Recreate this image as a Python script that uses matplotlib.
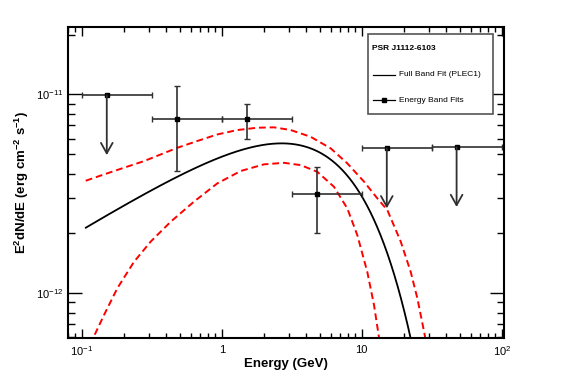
import numpy as np
import matplotlib.pyplot as plt
from matplotlib.patches import Rectangle
from matplotlib.lines import Line2D
from matplotlib.ticker import LogLocator, NullFormatter, FixedLocator, FixedFormatter

plt.rcParams['font.family'] = ['Liberation Sans', 'DejaVu Sans']
plt.rcParams['mathtext.default'] = 'regular'

# Energy band fits (GeV, erg cm^-2 s^-1)
band_lo = [0.1, 0.316, 1.0, 3.16, 10.0, 31.6]
band_hi = [0.316, 1.0, 3.16, 10.0, 31.6, 100.0]
band_e = [0.151, 0.476, 1.508, 4.77, 15.1, 47.6]
band_flux = [9.9e-12, 7.55e-12, 7.48e-12, 3.17e-12, 5.35e-12, 5.43e-12]
band_flux_up = [np.nan, 1.10e-11, 9.0e-12, 4.33e-12, np.nan, np.nan]
band_flux_dn = [np.nan, 4.12e-12, 5.96e-12, 2.0e-12, np.nan, np.nan]
upper_limit = [True, False, False, False, True, True]

# Full band fit (PLEC1): K * E^(2-gamma) * exp(-E/Ec)
plec_k = 5.71e-12
plec_gamma = 1.568
plec_cutoff = 6.2
plec_emin = 0.107

# 1 sigma envelope of the fit
env_hi_e = [0.1068, 0.1443, 0.2005, 0.2786, 0.4818, 0.669, 0.930, 1.292, 1.796,
            2.364, 3.11, 4.32, 6.01, 7.89, 10.39, 12.93, 15.24, 18.99, 22.39,
            24.96, 28.18, 29.0]
env_hi_f = [3.68e-12, 3.96e-12, 4.28e-12, 4.62e-12, 5.39e-12, 5.83e-12, 6.29e-12,
            6.62e-12, 6.80e-12, 6.83e-12, 6.62e-12, 6.12e-12, 5.35e-12, 4.50e-12,
            3.64e-12, 3.00e-12, 2.62e-12, 1.82e-12, 1.28e-12, 9.44e-13, 6.17e-13,
            5.5e-13]
env_lo_e = [0.1185, 0.1210, 0.1443, 0.1796, 0.2363, 0.311, 0.4322, 0.634, 0.930,
            1.367, 2.005, 2.786, 3.667, 4.82, 6.34, 7.89, 9.30, 10.96, 12.24,
            13.29, 13.51]
env_lo_f = [5.5e-13, 5.98e-13, 7.78e-13, 1.06e-12, 1.44e-12, 1.82e-12, 2.29e-12,
            2.89e-12, 3.57e-12, 4.12e-12, 4.45e-12, 4.53e-12, 4.41e-12, 4.08e-12,
            3.43e-12, 2.67e-12, 1.96e-12, 1.28e-12, 8.73e-13, 5.98e-13, 5.5e-13]


def plec1(e):
    return plec_k * e ** (2 - plec_gamma) * np.exp(-e / plec_cutoff)


fig = plt.figure(figsize=(5.67, 3.84), dpi=100)
ax = fig.add_axes([68 / 567, 1 - 337.7 / 384, 436 / 567, 311 / 384])

e_fit = np.geomspace(plec_emin, 30, 400)
ax.plot(e_fit, plec1(e_fit), color='black', lw=1.3)
ax.plot(env_hi_e, env_hi_f, color='red', lw=1.4, ls=(0, (3.5, 2)))
ax.plot(env_lo_e, env_lo_f, color='red', lw=1.4, ls=(0, (3.5, 2)))

e = np.array(band_e)
f = np.array(band_flux)
xerr = [e - np.array(band_lo), np.array(band_hi) - e]
ul = np.array(upper_limit)
det = ~ul
yerr = [(f - np.array(band_flux_dn))[det], (np.array(band_flux_up) - f)[det]]
ebar_col = '#303030'
ax.errorbar(e[det], f[det], xerr=[xerr[0][det], xerr[1][det]], yerr=yerr,
            fmt='s', color=ebar_col, mfc='black', mec='black', ms=3,
            elinewidth=1.2, capsize=2, capthick=1.0)
ax.errorbar(e[ul], f[ul], xerr=[xerr[0][ul], xerr[1][ul]],
            fmt='s', color=ebar_col, mfc='black', mec='black', ms=3,
            elinewidth=1.2, capsize=2, capthick=1.0)
for xi, yi in zip(e[ul], f[ul]):
    ax.annotate('', xy=(xi, yi * 0.5), xytext=(xi, yi),
                arrowprops=dict(arrowstyle='->,head_length=0.75,head_width=0.42',
                                color=ebar_col, lw=1.3, shrinkA=0, shrinkB=0))

ax.set_xscale('log')
ax.set_yscale('log')
ax.set_xlim(0.0798, 103.8)
ax.set_ylim(5.98e-13, 2.19e-11)

ax.xaxis.set_major_locator(FixedLocator([0.1, 1, 10, 100]))
ax.xaxis.set_major_formatter(FixedFormatter(['$10^{-1}$', '1', '10', '$10^{2}$']))
ax.yaxis.set_major_locator(FixedLocator([1e-12, 1e-11]))
ax.yaxis.set_major_formatter(FixedFormatter(['$10^{-12}$', '$10^{-11}$']))
for axis in (ax.xaxis, ax.yaxis):
    axis.set_minor_locator(LogLocator(base=10, subs=np.arange(2, 10), numticks=20))
    axis.set_minor_formatter(NullFormatter())

ax.tick_params(which='both', direction='in', top=True, right=True,
               labelsize=8, width=1.0, color='black')
ax.tick_params(axis='x', which='major', length=6.5, pad=5)
ax.tick_params(axis='x', which='minor', length=3.3)
ax.tick_params(axis='y', which='major', length=10, pad=3.5)
ax.tick_params(axis='y', which='minor', length=4.7)
for sp in ax.spines.values():
    sp.set_linewidth(1.5)

fig.text(286 / 567, 1 - 364 / 384, 'Energy (GeV)', ha='center', va='center',
         fontsize=9.5, fontweight='bold')
fig.text(22 / 567, 1 - 182 / 384, 'E$^{2}$dN/dE (erg cm$^{-2}$ s$^{-1}$)',
         rotation=90, ha='center', va='center', fontsize=9.5, fontweight='bold')

# legend box
tf = fig.transFigure
fig.patches.append(Rectangle((368.3 / 567, 1 - 114.3 / 384), 124.4 / 567, 80.3 / 384,
                             transform=tf, facecolor='white', edgecolor='#555555',
                             lw=1.2, zorder=5))
fig.text(371.7 / 567, 1 - 49 / 384, 'PSR J1112-6103', fontsize=6, fontweight='bold',
         ha='left', va='center', zorder=6)
fig.lines.append(Line2D([373.3 / 567, 395 / 567], [1 - 75 / 384] * 2, transform=tf,
                        color='black', lw=0.9, zorder=6))
fig.text(399 / 567, 1 - 75 / 384, 'Full Band Fit (PLEC1)', fontsize=6,
         ha='left', va='center', zorder=6)
fig.lines.append(Line2D([373.3 / 567, 395 / 567], [1 - 100.3 / 384] * 2, transform=tf,
                        color='black', lw=0.9, zorder=6))
fig.lines.append(Line2D([384 / 567], [1 - 100.3 / 384], transform=tf, marker='s',
                        ms=3.5, color='black', zorder=7))
fig.text(399 / 567, 1 - 100.3 / 384, 'Energy Band Fits', fontsize=6,
         ha='left', va='center', zorder=6)

fig.savefig('out.png', dpi=100)
